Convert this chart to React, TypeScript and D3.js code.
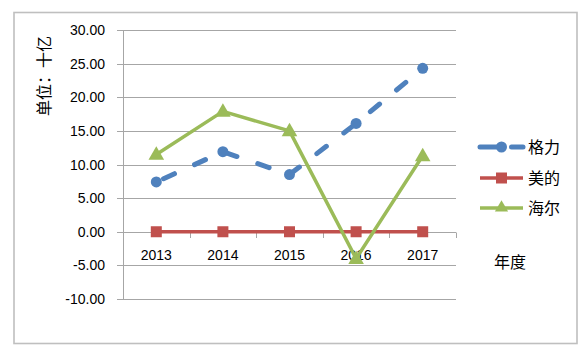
import React from "react";
import * as d3 from "d3";

const categories = ["2013", "2014", "2015", "2016", "2017"];
const seriesNames = ["格力", "美的", "海尔"];
const geli = [7.4, 11.9, 8.5, 16.1, 24.3];
const meidi = [0, 0, 0, 0, 0];
const haier = [11.5, 17.9, 15.0, -4.0, 11.3];
const yTicks = [30, 25, 20, 15, 10, 5, 0, -5, -10];
const yTitle = "单位：十亿";
const xTitle = "年度";

const W = 587;
const H = 357;
const plot = { left: 123, right: 456, top: 30, bottom: 299 };
const colors = ["#4F81BD", "#C0504D", "#9BBB59"];
const latin = "'Liberation Sans', Arial, sans-serif";
const cjk = "'Noto Sans CJK SC', sans-serif";

export default function App() {
  const x = d3.scaleBand<string>().domain(categories).range([plot.left, plot.right]);
  const y = d3.scaleLinear().domain([-10, 30]).range([plot.bottom, plot.top]);
  const cx = (c: string) => (x(c) as number) + x.bandwidth() / 2;
  const line = d3
    .line<number>()
    .x((_, i) => cx(categories[i]))
    .y((d) => y(d));
  const y0 = y(0);
  const boundaries = categories.map((c) => x(c) as number).concat([plot.right]);

  const tri = (px: number, py: number, s: number) =>
    `M${px},${py - s * 0.62} L${px + s * 0.6},${py + s * 0.42} L${px - s * 0.6},${py + s * 0.42} Z`;

  const legendY = [147, 178, 208];
  const lx0 = 480;
  const lx1 = 523;
  const lmid = (lx0 + lx1) / 2;

  return (
    <svg
      width={W}
      height={H}
      style={{ position: "absolute", left: 0, top: 0, background: "#fff" }}
    >
      <rect x={0} y={0} width={W} height={H} fill="#fff" />
      <rect x={14} y={12.5} width={563} height={331} fill="#fff" stroke="#BFBFBF" strokeWidth={1.6} />
      {/* gridlines */}
      {yTicks.map((t) => (
        <line
          key={t}
          x1={plot.left - 6}
          x2={plot.right}
          y1={Math.round(y(t)) + 0.5}
          y2={Math.round(y(t)) + 0.5}
          stroke="#A6A6A6"
          strokeWidth={1}
        />
      ))}
      {/* vertical axis */}
      <line x1={plot.left + 0.5} x2={plot.left + 0.5} y1={plot.top} y2={plot.bottom + 1} stroke="#A6A6A6" />
      {/* horizontal axis ticks */}
      {boundaries.map((b, i) => (
        <line
          key={i}
          x1={Math.round(b) + 0.5}
          x2={Math.round(b) + 0.5}
          y1={Math.round(y0) + 0.5}
          y2={Math.round(y0) + 6}
          stroke="#A6A6A6"
        />
      ))}
      {/* y tick labels */}
      {yTicks.map((t) => (
        <text
          key={t}
          x={105}
          y={y(t) + 5}
          textAnchor="end"
          fontSize={14}
          fontFamily={latin}
          fill="#000"
        >
          {t.toFixed(2)}
        </text>
      ))}
      {/* category labels */}
      {categories.map((c) => (
        <text key={c} x={cx(c)} y={y0 + 28} textAnchor="middle" fontSize={14} fontFamily={latin} fill="#000">
          {c}
        </text>
      ))}
      {/* series lines */}
      <path
        d={line(meidi) as string}
        fill="none"
        stroke={colors[1]}
        strokeWidth={3.5}
        strokeLinejoin="round"
      />
      <path
        d={line(haier) as string}
        fill="none"
        stroke={colors[2]}
        strokeWidth={3.5}
        strokeLinejoin="round"
      />
      <path
        d={line(geli) as string}
        fill="none"
        stroke={colors[0]}
        strokeWidth={5}
        strokeDasharray="12 22"
        strokeDashoffset={-8}
        strokeLinecap="round"
        strokeLinejoin="round"
      />
      {/* markers */}
      {meidi.map((v, i) => (
        <rect key={i} x={cx(categories[i]) - 5.5} y={y(v) - 5.5} width={11} height={11} fill={colors[1]} />
      ))}
      {haier.map((v, i) => (
        <path key={i} d={tri(cx(categories[i]), y(v), 13)} fill={colors[2]} />
      ))}
      {geli.map((v, i) => (
        <circle key={i} cx={cx(categories[i])} cy={y(v)} r={5.5} fill={colors[0]} />
      ))}
      {/* y title */}
      <text
        transform={`translate(50,76) rotate(-90)`}
        textAnchor="middle"
        fontSize={16}
        fontFamily={cjk}
        fill="#000"
      >
        {yTitle}
      </text>
      {/* legend */}
      <line x1={lx0} x2={lmid} y1={legendY[0]} y2={legendY[0]} stroke={colors[0]} strokeWidth={5} strokeLinecap="round" />
      <line x1={lmid + 10} x2={lx1} y1={legendY[0]} y2={legendY[0]} stroke={colors[0]} strokeWidth={5} strokeLinecap="round" />
      <circle cx={lmid} cy={legendY[0]} r={5.5} fill={colors[0]} />
      <line x1={lx0} x2={lx1} y1={legendY[1]} y2={legendY[1]} stroke={colors[1]} strokeWidth={3.5} />
      <rect x={lmid - 5.5} y={legendY[1] - 5.5} width={11} height={11} fill={colors[1]} />
      <line x1={lx0} x2={lx1} y1={legendY[2]} y2={legendY[2]} stroke={colors[2]} strokeWidth={3.5} />
      <path d={tri(lmid, legendY[2] - 1, 11)} fill={colors[2]} />
      {seriesNames.map((n, i) => (
        <text key={n} x={528} y={legendY[i] + 6} fontSize={16} fontFamily={cjk} fill="#000">
          {n}
        </text>
      ))}
      <text x={494} y={268} fontSize={16} fontFamily={cjk} fill="#000">
        {xTitle}
      </text>
    </svg>
  );
}
